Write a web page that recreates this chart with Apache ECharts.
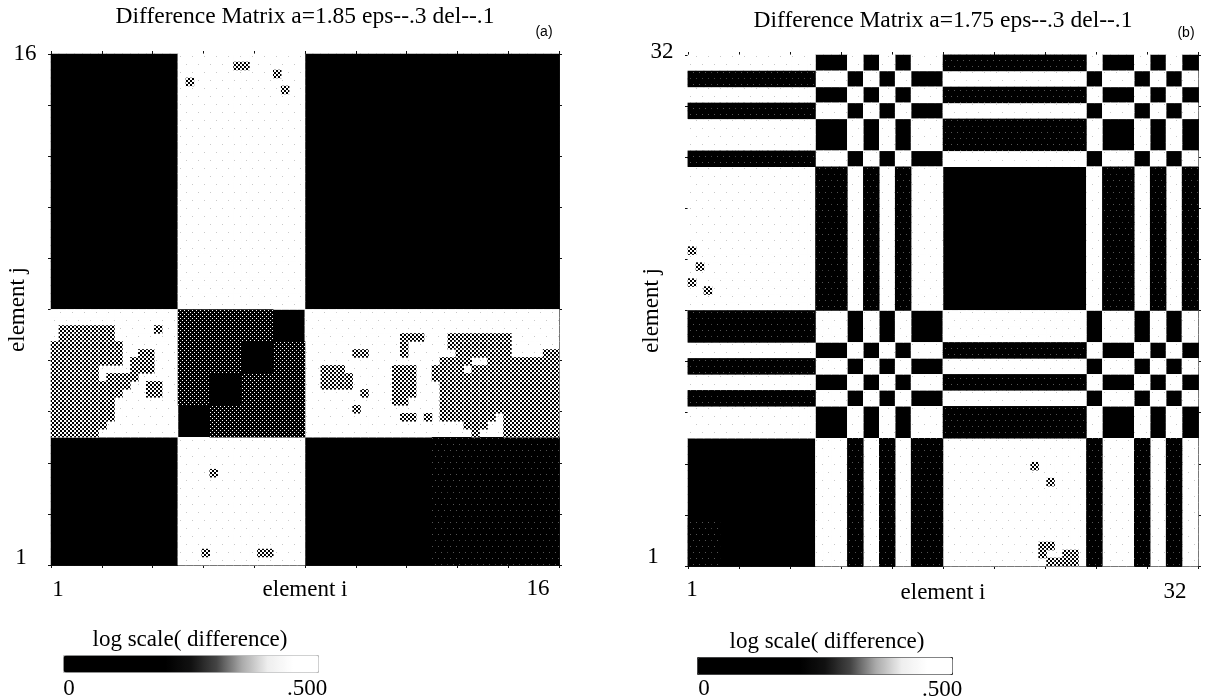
<!DOCTYPE html>
<html>
<head>
<meta charset="utf-8">
<style>html,body{margin:0;padding:0;background:#fff}#c{width:1205px;height:700px}</style>
<script src="https://cdn.jsdelivr.net/npm/echarts@6/dist/echarts.min.js"></script>
</head>
<body>
<div id="c"></div>
<script>
// ---------- values ----------
const titleA = 'Difference Matrix a=1.85 eps--.3 del--.1';
const titleB = 'Difference Matrix a=1.75 eps--.3 del--.1';
const scaleTitle = 'log scale( difference)';
const scaleTicks = ['0', '.500'];
const scaleRange = [0, 0.5];
const FINE_A = 4;   // sub-cells per element in panel a
const FINE_B = 2;   // sub-cells per element in panel b

// panel a: 16 x 16 elements, top row first; 0 black, 1 white
const matrixA = [
  '0000111100000000','0000111100000000','0000111100000000','0000111100000000',
  '0000111100000000','0000111100000000','0000111100000000','0000111100000000',
  '1111000011111111','1111000011111111','1111000011111111','1111000011111111',
  '0000111100000000','0000111100000000','0000111100000000','0000111100000000'
];
// panel a: mottled patches in the white band, sub-cells, rows 8-11 of the matrix
const patchLeftA = [
  '................','.............:..','.#######.....#..','.#######....:...',
  '#########.......','#########..##...','#########:###...','######...:###...',
  '######.####.....','##########..##..','#########...##..','########....:...',
  '########........','########........','#######.........','######.........:'
];
const patchRightA = [
  '................................','................................','................................',
  '..........:.###...########......','............#.....########.....:','......##....#......#######....##',
  '........:........####::#########','..###......###..####.###########','..####.....###..################',
  '..####.....###...###############','...::..#...###...###############','...........##....###############',
  '......#....:.....###############','............##.#.#######.#######','....................###..#######',
  '................::...#...#######'
];
// panel a: dense texture block [col0,col1,row0,row1) minus the black staircase
const denseBlockA = [4, 8, 8, 12];
const staircaseA = [[7, 8], [6, 9], [5, 10], [4, 11]];
const sparseBlocksA = [[12, 16, 12, 16]];
// panel a: isolated specks, sub-cell col,row
const specksA = [[17, 3], [23, 1], [24, 1], [28, 2], [29, 4], [20, 52], [19, 62], [26, 62], [27, 62]];

// panel b: 32 x 32 elements; two row kinds and the order they come in, top first
const rowWhiteFirst = '11111111001010110000000001001010';
const rowBlackFirst = '00000000110101001111111110110101';
const rowOrderB = 'WBWBWWBWWWWWWWWWBBWBWBWWBBBBBBBB';
const sparseBlocksB = [
  [0, 8, 0, 7], [0, 8, 16, 24], [8, 10, 7, 16], [16, 25, 0, 7], [16, 25, 16, 24],
  [8, 16, 24, 32], [25, 32, 24, 32], [10, 16, 7, 16], [25, 32, 7, 16], [0, 2, 29, 32]
];
// panel b: isolated specks / mottled cluster, sub-cell col,row
const specksB = [
  [1, 26], [0, 28], [2, 29], [43, 51], [45, 53], [44, 61], [45, 61], [47, 62], [48, 62],
  [45, 63], [46, 63], [47, 63], [48, 63], [0, 24], [44, 62]
];

// ---------- building the series ----------
function inBlock(b, c, r) { return c >= b[0] && c < b[1] && r >= b[2] && r < b[3]; }

const baseA = [], faintA = [], speckA = [], denseA = [], sparseA = [];
matrixA.forEach((row, r) => {
  [...row].forEach((ch, c) => {
    const white = ch === '1';
    for (let i = 0; i < FINE_A; i++) for (let j = 0; j < FINE_A; j++) {
      const fc = c * FINE_A + i, fr = r * FINE_A + j;
      baseA.push([fc, fr, white ? scaleRange[1] : scaleRange[0]]);
      if (white) faintA.push([fc, fr, 0.45]);
      else if (inBlock(denseBlockA, c, r) && !staircaseA.some(s => s[0] === c && s[1] === r)) denseA.push([fc, fr, 0.1]);
      else if (sparseBlocksA.some(b => inBlock(b, c, r))) sparseA.push([fc, fr, 0.05]);
    }
  });
});
patchLeftA.forEach((row, j) => [...row].forEach((ch, i) => {
  if (ch === '#') speckA.push([i, 32 + j, 0.28]);
}));
patchRightA.forEach((row, j) => [...row].forEach((ch, i) => {
  if (ch === '#') speckA.push([32 + i, 32 + j, 0.28]);
}));
specksA.forEach(s => speckA.push([s[0], s[1], 0.28]));

const baseB = [], faintB = [], speckB = [], sparseB = [];
[...rowOrderB].forEach((kind, r) => {
  const row = kind === 'W' ? rowWhiteFirst : rowBlackFirst;
  [...row].forEach((ch, c) => {
    const white = ch === '1';
    for (let i = 0; i < FINE_B; i++) for (let j = 0; j < FINE_B; j++) {
      const fc = c * FINE_B + i, fr = r * FINE_B + j;
      baseB.push([fc, fr, white ? scaleRange[1] : scaleRange[0]]);
      if (white) faintB.push([fc, fr, 0.45]);
      else if (sparseBlocksB.some(b => inBlock(b, c, r))) sparseB.push([fc, fr, 0.05]);
    }
  });
});
specksB.forEach(s => speckB.push([s[0], s[1], 0.28]));

// ---------- textures ----------
const decalSpeck = { symbol: 'rect', symbolSize: 1, color: '#000', dashArrayX: [[2, 2], [0, 2, 2, 0]], dashArrayY: [2, 0], rotation: 0 };
const decalDense = { symbol: 'rect', symbolSize: 1, color: '#fff', dashArrayX: [[1, 3], [0, 2, 1, 1]], dashArrayY: [1, 1], rotation: 0 };
const decalSparse = { symbol: 'rect', symbolSize: 1, color: '#555', dashArrayX: [[1, 5], [0, 3, 1, 2]], dashArrayY: [1, 5], rotation: 0 };
const decalFaint = { symbol: 'rect', symbolSize: 1, color: '#c8c8c8', dashArrayX: [[1, 11], [0, 6, 1, 5]], dashArrayY: [1, 7], rotation: 0 };

function heat(name, data, axis, fill, decal) {
  const s = {
    name, type: 'heatmap', data, xAxisIndex: axis, yAxisIndex: axis,
    progressive: 0, silent: true, animation: false, emphasis: { disabled: true }
  };
  if (fill) s.itemStyle = { color: fill, decal };
  return s;
}

const cats = n => Array.from({ length: n }, (_, i) => String(i));
const FINE_COUNT_A = 16 * FINE_A, FINE_COUNT_B = 32 * FINE_B;
const rects = {
  a: { left: 51, top: 54, width: 508, height: 511 },
  b: { left: 688, top: 55, width: 510, height: 511 }
};
const tickAxis = (gridIndex, position, extra) => Object.assign({
  type: 'value', gridIndex, position, min: 0, max: 10, interval: 1,
  axisLabel: { show: false }, splitLine: { show: false },
  axisLine: { show: true, onZero: false, lineStyle: { color: '#111', width: 1 } },
  axisTick: { show: true, length: 3, inside: false, lineStyle: { color: '#111', width: 1 } }
}, extra || {});
const nameFont = { fontFamily: 'Liberation Serif', fontSize: 23, color: '#000' };

const serif = 'Liberation Serif';
function txt(text, x, y, size, font) {
  return {
    type: 'text', x, y, silent: true,
    style: { text, fontFamily: font || serif, fontSize: size || 23, fill: '#000', textAlign: 'center', textVerticalAlign: 'middle' }
  };
}
const labels = [
  txt('16', 25, 54), txt('1', 21, 558),
  txt('1', 58, 590), txt('16', 538, 589),
  txt('(a)', 544, 32, 14, 'Liberation Sans'),
  txt(scaleTitle, 190, 640),
  txt(scaleTicks[0], 69, 689), txt(scaleTicks[1], 307, 689),
  txt('32', 662, 52), txt('1', 653, 557),
  txt('1', 692, 590), txt('32', 1175, 592),
  txt('(b)', 1186, 33, 14, 'Liberation Sans'),
  txt(scaleTitle, 827, 642),
  txt(scaleTicks[0], 704, 689), txt(scaleTicks[1], 942, 690)
];
const colourStops = ['#000', '#000', '#000', '#000', '#000', '#111', '#444', '#aaa', '#eee', '#fff', '#fff'];
const vm = (seriesIndex, left, top, border) => ({
  type: 'continuous', seriesIndex, min: scaleRange[0], max: scaleRange[1], show: true,
  orient: 'horizontal', left, top, itemWidth: 17, itemHeight: 255, padding: 0,
  text: null, calculable: false, realtime: false, hoverLink: false, showLabel: false,
  borderColor: border, borderWidth: 1,
  inRange: { color: colourStops }
});

const option = {
  backgroundColor: '#fff',
  animation: false,
  title: [
    { text: titleA, left: 305, top: 17, textAlign: 'center', textVerticalAlign: 'middle',
      textStyle: { fontFamily: serif, fontSize: 23.5, fontWeight: 'normal', color: '#000' }, padding: 0 },
    { text: titleB, left: 943, top: 21, textAlign: 'center', textVerticalAlign: 'middle',
      textStyle: { fontFamily: serif, fontSize: 23.5, fontWeight: 'normal', color: '#000' }, padding: 0 }
  ],
  grid: [rects.a, rects.a, rects.b, rects.b].map((r, i) => Object.assign(
    { containLabel: false, show: i % 2 === 0, backgroundColor: '#000', borderWidth: 0 }, r)),
  xAxis: [
    { type: 'category', gridIndex: 0, data: cats(FINE_COUNT_A), show: false },
    tickAxis(1, 'bottom', { name: 'element i', nameLocation: 'middle', nameGap: 13, nameTextStyle: nameFont }),
    tickAxis(1, 'top'),
    { type: 'category', gridIndex: 2, data: cats(FINE_COUNT_B), show: false },
    tickAxis(3, 'bottom', { name: 'element i', nameLocation: 'middle', nameGap: 15, nameTextStyle: nameFont }),
    tickAxis(3, 'top')
  ],
  yAxis: [
    { type: 'category', gridIndex: 0, data: cats(FINE_COUNT_A), inverse: true, show: false },
    tickAxis(1, 'left', { name: 'element j', nameLocation: 'middle', nameGap: 22, nameTextStyle: nameFont }),
    tickAxis(1, 'right'),
    { type: 'category', gridIndex: 2, data: cats(FINE_COUNT_B), inverse: true, show: false },
    tickAxis(3, 'left', { name: 'element j', nameLocation: 'middle', nameGap: 25, nameTextStyle: nameFont }),
    tickAxis(3, 'right')
  ],
  visualMap: [vm(0, 63, 655, '#bbb'), vm(5, 697, 657, '#333')],
  series: [
    heat('a', baseA, 0),
    heat('a faint', faintA, 0, '#fff', decalFaint),
    heat('a sparse', sparseA, 0, '#000', decalSparse),
    heat('a dense', denseA, 0, '#000', decalDense),
    heat('a mottled', speckA, 0, '#fff', decalSpeck),
    heat('b', baseB, 3),
    heat('b faint', faintB, 3, '#fff', decalFaint),
    heat('b sparse', sparseB, 3, '#000', decalSparse),
    heat('b mottled', speckB, 3, '#fff', decalSpeck)
  ],
  graphic: { elements: labels }
};
const chart = echarts.init(document.getElementById('c'), null, { renderer: 'canvas' });
chart.setOption(option);
</script>
</body>
</html>
